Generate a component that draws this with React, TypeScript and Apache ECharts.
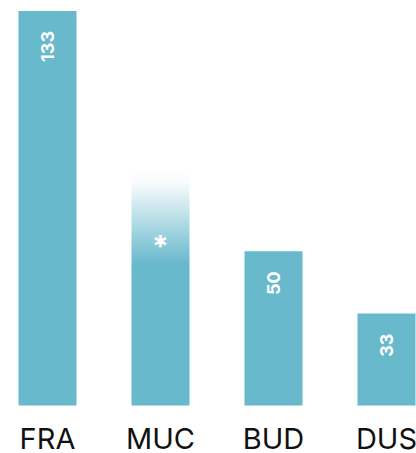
import React, { useEffect, useRef } from "react";
import * as echarts from "echarts";

const categories = ["FRA", "MUC", "BUD", "DUS"];
// bar heights as drawn in the picture
const barValues = [133, 80, 52, 31];
// the texts printed on the bars
const barLabels = ["133", "*", "50", "33"];

const BAR_COLOR = "#69b9cc";

export default function App() {
  const ref = useRef<HTMLDivElement>(null);
  useEffect(() => {
    if (!ref.current) return;
    const chart = echarts.init(ref.current, null, { renderer: "svg" });
    const data = barValues.map((v, i) => {
      if (barLabels[i] === "*") {
        return {
          value: v,
          itemStyle: {
            color: new echarts.graphic.LinearGradient(0, 0, 0, 1, [
              { offset: 0, color: "rgba(105,185,204,0)" },
              { offset: 0.06, color: "rgba(105,185,204,0.04)" },
              { offset: 0.4, color: "rgba(105,185,204,1)" },
              { offset: 1, color: "rgba(105,185,204,1)" },
            ]),
          },
          label: {
            rotate: 0,
            position: "insideTop",
            distance: 63,
            align: "center",
            verticalAlign: "top",
            fontSize: 30,
          },
        };
      }
      return { value: v };
    });
    chart.setOption({
      animation: false,
      grid: { left: 0, right: 0, top: 11, bottom: 45, containLabel: false },
      xAxis: {
        type: "category",
        data: categories,
        axisLine: { show: false },
        axisTick: { show: false },
        axisLabel: {
          color: "#111",
          fontSize: 29,
          lineHeight: 24,
          fontFamily: "Inter",
          margin: 21,
        },
      },
      yAxis: {
        type: "value",
        min: 0,
        max: 133,
        show: false,
        splitLine: { show: false },
      },
      series: [
        {
          type: "bar",
          barWidth: 58,
          data,
          itemStyle: { color: BAR_COLOR },
          label: {
            show: true,
            position: "insideTop",
            distance: 20,
            rotate: 90,
            align: "right",
            verticalAlign: "middle",
            color: "#fff",
            fontSize: 18,
            fontWeight: "bold",
            fontFamily: "Inter",
            formatter: (p: any) => barLabels[p.dataIndex],
          },
        },
      ],
    });
    return () => chart.dispose();
  }, []);
  return (
    <div style={{ position: "absolute", left: 0, top: 0, width: 416, height: 453, overflow: "hidden" }}>
      <div ref={ref} style={{ position: "absolute", left: -9.5, top: 0, width: 452, height: 453 }} />
    </div>
  );
}
